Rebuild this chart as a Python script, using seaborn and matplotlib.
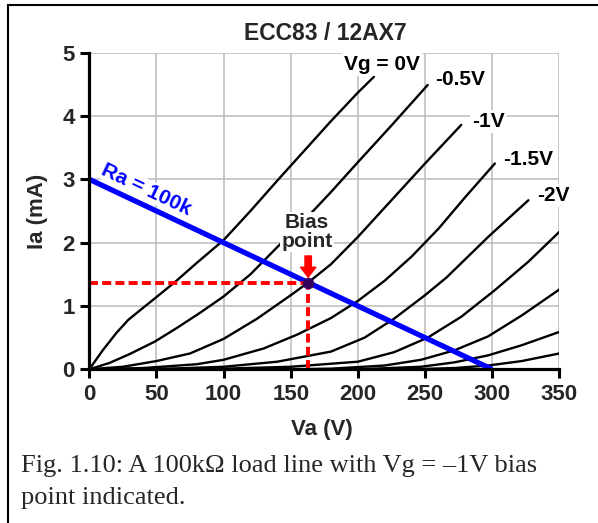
import numpy as np
import pandas as pd
import matplotlib
matplotlib.use("Agg")
import matplotlib.pyplot as plt
import seaborn as sns
from matplotlib.patches import FancyArrowPatch

# ---------------- data ----------------
vg_0_va = [0, 10, 20, 29, 40, 50, 65, 80, 100, 120, 140, 160, 180, 200, 212]
vg_0_ia = [0, 0.30, 0.57, 0.78, 0.97, 1.14, 1.40, 1.68, 2.04, 2.50, 2.98, 3.45, 3.92, 4.37, 4.62]

vg_m05_va = [0, 15, 30, 49, 65, 83, 100, 120, 140, 160, 180, 200, 225, 252]
vg_m05_ia = [0, 0.10, 0.24, 0.44, 0.65, 0.90, 1.15, 1.50, 1.93, 2.35, 2.80, 3.27, 3.85, 4.49]

vg_m1_va = [0, 25, 50, 75, 100, 125, 150, 163, 180, 200, 225, 250, 277]
vg_m1_ia = [0, 0.04, 0.13, 0.25, 0.48, 0.80, 1.17, 1.37, 1.66, 2.09, 2.67, 3.25, 3.86]

vg_m15_va = [0, 40, 80, 100, 130, 155, 180, 200, 220, 240, 260, 280, 302]
vg_m15_ia = [0, 0.02, 0.08, 0.15, 0.33, 0.55, 0.81, 1.08, 1.40, 1.78, 2.22, 2.72, 3.25]

vg_m2_va = [0, 60, 100, 140, 180, 205, 227, 250, 266, 282, 297, 312, 327]
vg_m2_ia = [0, 0.01, 0.04, 0.12, 0.28, 0.50, 0.80, 1.17, 1.45, 1.78, 2.09, 2.38, 2.67]

vg_m25_va = [0, 100, 150, 200, 227, 252, 277, 302, 327, 350]
vg_m25_ia = [0, 0.01, 0.04, 0.12, 0.27, 0.50, 0.83, 1.25, 1.70, 2.17]

vg_m3_va = [0, 150, 180, 220, 247, 272, 297, 322, 350]
vg_m3_ia = [0, 0.0, 0.01, 0.06, 0.15, 0.30, 0.52, 0.85, 1.26]

vg_m35_va = [0, 200, 247, 272, 297, 322, 350]
vg_m35_ia = [0, 0.0, 0.04, 0.11, 0.22, 0.38, 0.59]

vg_m4_va = [0, 240, 272, 297, 322, 350]
vg_m4_ia = [0, 0.0, 0.02, 0.06, 0.13, 0.25]

grid_voltages = [0, -0.5, -1, -1.5, -2, -2.5, -3, -3.5, -4]
curve_labels = ["Vg = 0V", "-0.5V", "-1V", "-1.5V", "-2V"]

load_va = [0, 300]
load_ia = [3, 0]
bias_va = 163
bias_ia = 1.37

x_ticks = [0, 50, 100, 150, 200, 250, 300, 350]
y_ticks = [0, 1, 2, 3, 4, 5]

title = "ECC83 / 12AX7"
x_label = "Va (V)"
y_label = "Ia (mA)"
load_label = "Ra = 100k"
bias_label = "Bias\npoint"
caption_1 = "Fig. 1.10: A 100k\u03a9 load line with Vg = \u20131V bias"
caption_2 = "point indicated."

# --------------- build table ---------------
curves = [(vg_0_va, vg_0_ia), (vg_m05_va, vg_m05_ia), (vg_m1_va, vg_m1_ia),
          (vg_m15_va, vg_m15_ia), (vg_m2_va, vg_m2_ia), (vg_m25_va, vg_m25_ia),
          (vg_m3_va, vg_m3_ia), (vg_m35_va, vg_m35_ia), (vg_m4_va, vg_m4_ia)]
frames = []
for vg, (va, ia) in zip(grid_voltages, curves):
    frames.append(pd.DataFrame({"Va": va, "Ia": ia, "Vg": vg}))
df = pd.concat(frames, ignore_index=True)
load_df = pd.DataFrame({"Va": load_va, "Ia": load_ia})
bias_df = pd.DataFrame({"Va": [bias_va], "Ia": [bias_ia]})

# --------------- style ---------------
sns.set_style("white")
plt.rcParams["font.family"] = ["Liberation Sans", "DejaVu Sans"]
plt.rcParams["font.weight"] = "bold"

W, H = 598, 523
fig = plt.figure(figsize=(W / 100, H / 100), dpi=100)
fig.patch.set_facecolor("white")

ax_l, ax_r, ax_t, ax_b = 89.3, 559.3, 52.7, 369.3
ax = fig.add_axes([ax_l / W, 1 - ax_b / H, (ax_r - ax_l) / W, (ax_b - ax_t) / H])
ax.set_facecolor("white")

sns.lineplot(data=df, x="Va", y="Ia", units="Vg", estimator=None, sort=False,
             color="black", lw=1.7, ax=ax, zorder=3, legend=False)
sns.lineplot(data=load_df, x="Va", y="Ia", color="#0000FF", lw=3.8, ax=ax,
             zorder=4, legend=False, solid_capstyle="butt")

ax.set_xlim(x_ticks[0], x_ticks[-1])
ax.set_ylim(y_ticks[0], y_ticks[-1])
ax.set_xticks(x_ticks)
ax.set_yticks(y_ticks)
ax.set_xticklabels([str(v) for v in x_ticks], fontsize=16, fontweight="bold")
ax.set_yticklabels([str(v) for v in y_ticks], fontsize=16, fontweight="bold")
ax.set_xlabel("")
ax.set_ylabel("")
ax.grid(True, color="#C0C0C0", lw=1.2, zorder=0)
ax.set_axisbelow(True)
for s in ["top", "right"]:
    ax.spines[s].set_visible(False)
for s in ["left", "bottom"]:
    ax.spines[s].set_linewidth(2.3)
    ax.spines[s].set_color("black")
    ax.spines[s].set_zorder(6)
ax.tick_params(axis="both", direction="out", length=6.5, width=2.2, color="black",
               pad=4, bottom=True, left=True)

# red dashed guides to bias point
ax.plot([0, bias_va], [bias_ia, bias_ia], color="red", lw=2.8,
        linestyle=(0, (2.3, 1.1)), zorder=5, dash_capstyle="butt")
ax.plot([bias_va, bias_va], [0, bias_ia], color="red", lw=2.8,
        linestyle=(0, (2.3, 1.1)), zorder=5, dash_capstyle="butt")
sns.scatterplot(data=bias_df, x="Va", y="Ia", color="#33005F", s=60,
                edgecolor="#33005F", ax=ax, zorder=7, legend=False)
ax.set_xlabel("")
ax.set_ylabel("")

# arrow pointing at bias point
arr = FancyArrowPatch((bias_va, bias_ia + 0.42), (bias_va, bias_ia + 0.085),
                      arrowstyle="simple,head_length=0.65,head_width=1.0,tail_width=0.42",
                      mutation_scale=11, color="red", zorder=7, shrinkA=0, shrinkB=0)
ax.add_patch(arr)

# curve labels
box = dict(facecolor="white", edgecolor="none", pad=1.5)
label_pos = [(218.2, 4.82), (276, 4.57), (297, 3.91), (326.6, 3.31), (345.5, 2.74)]
for txt, (x, y) in zip(curve_labels, label_pos):
    ax.text(x, y, txt, ha="center", va="center", fontsize=15, fontweight="bold",
            color="black", bbox=box, zorder=8, clip_on=False)

ax.text(bias_va - 1, 2.17, bias_label, ha="center", va="center", fontsize=15,
        fontweight="bold", linespacing=0.95, bbox=dict(facecolor="white", edgecolor="none", pad=1),
        zorder=8)

# load line label, rotated along the line
fig.canvas.draw()
p1 = ax.transData.transform((load_va[0], load_ia[0]))
p2 = ax.transData.transform((load_va[1], load_ia[1]))
ang = np.degrees(np.arctan2(p2[1] - p1[1], p2[0] - p1[0]))
ax.text(42.5, 2.84, load_label, ha="center", va="center", rotation=ang,
        rotation_mode="anchor", fontsize=15, fontweight="bold", color="#0000FF",
        bbox=dict(facecolor="white", edgecolor="none", pad=0.5), zorder=8)

# titles / axis labels as figure text
fig.text(325 / W, 1 - 40 / H, title, ha="center", va="baseline", fontsize=16.5,
         fontweight="bold")
fig.text(322 / W, 1 - 435 / H, x_label, ha="center", va="baseline", fontsize=16,
         fontweight="bold")
fig.text(37 / W, 1 - 211 / H, y_label, ha="center", va="center", rotation=90,
         fontsize=16, fontweight="bold")

# caption
fig.text(21 / W, 1 - 472 / H, caption_1, ha="left", va="baseline", fontsize=19,
         fontweight="normal", family=["Liberation Serif", "DejaVu Serif"])
fig.text(21 / W, 1 - 504 / H, caption_2, ha="left", va="baseline", fontsize=19,
         fontweight="normal", family=["Liberation Serif", "DejaVu Serif"])

# outer frame (top and left edges visible)
fig.add_artist(plt.Line2D([7.7 / W, 7.7 / W], [0, 1 - 5 / H], transform=fig.transFigure,
                          color="black", lw=1.5))
fig.add_artist(plt.Line2D([7.7 / W, 1], [1 - 5 / H, 1 - 5 / H], transform=fig.transFigure,
                          color="black", lw=1.5))

fig.savefig("out.png", dpi=100, facecolor="white")
